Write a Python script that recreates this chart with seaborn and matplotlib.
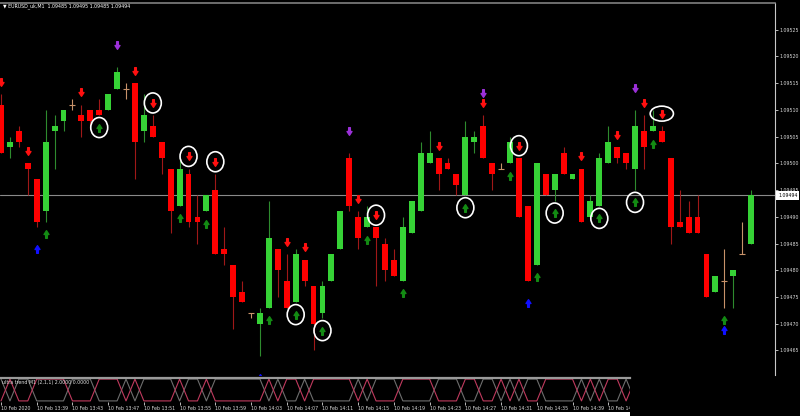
import numpy as np
import pandas as pd
import matplotlib.pyplot as plt
import matplotlib.transforms as mtransforms
import seaborn as sns
from matplotlib.patches import Ellipse, Rectangle
from matplotlib.path import Path

# EURUSD M1 candles, 10 Feb 2020 13:35 .. 14:59
opens = [1.09511, 1.09503, 1.09506, 1.09500, 1.09497, 1.09491, 1.09506, 1.09508, 1.09511, 1.09509,
         1.09510, 1.09510, 1.09510, 1.09514, 1.09514, 1.09515, 1.09506, 1.09507, 1.09504, 1.09499,
         1.09492, 1.09498, 1.09490, 1.09491, 1.09495, 1.09484, 1.09481, 1.09476, 1.09472, 1.09470,
         1.09473, 1.09484, 1.09478, 1.09474, 1.09482, 1.09477, 1.09472, 1.09478, 1.09484, 1.09501,
         1.09490, 1.09488, 1.09488, 1.09485, 1.09482, 1.09478, 1.09487, 1.09491, 1.09500, 1.09501,
         1.09500, 1.09498, 1.09494, 1.09504, 1.09507, 1.09500, 1.09499, 1.09500, 1.09501, 1.09492,
         1.09481, 1.09498, 1.09495, 1.09502, 1.09497, 1.09499, 1.09490, 1.09492, 1.09500, 1.09503,
         1.09502, 1.09499, 1.09506, 1.09506, 1.09506, 1.09501, 1.09489, 1.09490, 1.09490, 1.09483,
         1.09476, 1.09478, 1.09479, 1.09483, 1.09485]
highs = [1.09513, 1.09505, 1.09507, 1.09500, 1.09497, 1.09510, 1.09509, 1.09510, 1.09512, 1.09511,
         1.09510, 1.09512, 1.09513, 1.09518, 1.09515, 1.09515, 1.09513, 1.09509, 1.09504, 1.09499,
         1.09501, 1.09499, 1.09494, 1.09494, 1.09498, 1.09488, 1.09481, 1.09478, 1.09472, 1.09473,
         1.09493, 1.09484, 1.09483, 1.09484, 1.09482, 1.09477, 1.09478, 1.09483, 1.09491, 1.09502,
         1.09491, 1.09492, 1.09488, 1.09486, 1.09484, 1.09490, 1.09493, 1.09504, 1.09506, 1.09501,
         1.09501, 1.09498, 1.09508, 1.09506, 1.09509, 1.09500, 1.09500, 1.09505, 1.09501, 1.09492,
         1.09500, 1.09498, 1.09498, 1.09503, 1.09498, 1.09499, 1.09494, 1.09502, 1.09507, 1.09503,
         1.09502, 1.09510, 1.09509, 1.09510, 1.09507, 1.09501, 1.09495, 1.09493, 1.09494, 1.09483,
         1.09479, 1.09484, 1.09480, 1.09489, 1.09495]
lows = [1.09502, 1.09501, 1.09503, 1.09494, 1.09488, 1.09489, 1.09499, 1.09506, 1.09510, 1.09505,
        1.09507, 1.09509, 1.09510, 1.09514, 1.09512, 1.09497, 1.09504, 1.09505, 1.09498, 1.09487,
        1.09492, 1.09488, 1.09485, 1.09491, 1.09483, 1.09481, 1.09469, 1.09474, 1.09471, 1.09464,
        1.09473, 1.09475, 1.09473, 1.09474, 1.09477, 1.09465, 1.09471, 1.09478, 1.09484, 1.09491,
        1.09484, 1.09488, 1.09477, 1.09478, 1.09479, 1.09478, 1.09487, 1.09491, 1.09500, 1.09495,
        1.09499, 1.09494, 1.09494, 1.09502, 1.09501, 1.09495, 1.09499, 1.09500, 1.09490, 1.09478,
        1.09481, 1.09494, 1.09493, 1.09498, 1.09497, 1.09489, 1.09490, 1.09492, 1.09500, 1.09500,
        1.09499, 1.09495, 1.09499, 1.09506, 1.09504, 1.09485, 1.09488, 1.09487, 1.09487, 1.09475,
        1.09476, 1.09473, 1.09473, 1.09483, 1.09485]
closes = [1.09502, 1.09504, 1.09504, 1.09499, 1.09489, 1.09504, 1.09507, 1.09510, 1.09511, 1.09508,
          1.09508, 1.09509, 1.09513, 1.09517, 1.09514, 1.09504, 1.09509, 1.09505, 1.09501, 1.09491,
          1.09499, 1.09489, 1.09489, 1.09494, 1.09483, 1.09483, 1.09475, 1.09474, 1.09472, 1.09472,
          1.09486, 1.09480, 1.09473, 1.09483, 1.09478, 1.09470, 1.09477, 1.09483, 1.09491, 1.09492,
          1.09486, 1.09490, 1.09486, 1.09480, 1.09479, 1.09488, 1.09493, 1.09502, 1.09502, 1.09498,
          1.09499, 1.09496, 1.09505, 1.09505, 1.09501, 1.09498, 1.09499, 1.09504, 1.09490, 1.09478,
          1.09500, 1.09494, 1.09498, 1.09498, 1.09498, 1.09489, 1.09493, 1.09501, 1.09504, 1.09501,
          1.09500, 1.09507, 1.09503, 1.09507, 1.09504, 1.09488, 1.09488, 1.09487, 1.09487, 1.09475,
          1.09479, 1.09478, 1.09480, 1.09483, 1.09494]

# signal arrows (candle index)
sell_red = [0, 3, 9, 15, 17, 21, 24, 32, 34, 40, 42, 49, 54, 58, 65, 69, 72, 74]
sell_purple = [13, 39, 54, 71]
buy_green = [5, 11, 20, 23, 30, 33, 36, 41, 45, 52, 57, 60, 62, 67, 71, 73, 81]
buy_blue = [4, 29, 59, 81]
circled_sell = [17, 21, 24, 42, 58, 74]
circled_buy = [11, 33, 36, 52, 62, 67, 71]

# ultra trend lines: 1 = upper level
trend_state = [0, 1, 0, 0, 1, 1, 1, 1, 0, 0, 0, 1, 1, 1, 0, 1, 0, 0, 0, 0,
               1, 0, 0, 1, 0, 0, 0, 0, 0, 0, 1, 0, 1, 1, 0, 1, 1, 1, 1, 1,
               0, 1, 0, 0, 0, 1, 1, 1, 1, 0, 0, 0, 1, 1, 0, 0, 1, 0, 1, 0,
               0, 1, 1, 1, 1, 0, 1, 0, 1, 1, 0, 1]

tick_pos = list(range(0, 69, 4))
tick_labels = ['10 Feb 2020', '10 Feb 13:39', '10 Feb 13:43', '10 Feb 13:47', '10 Feb 13:51',
               '10 Feb 13:55', '10 Feb 13:59', '10 Feb 14:03', '10 Feb 14:07', '10 Feb 14:11',
               '10 Feb 14:15', '10 Feb 14:19', '10 Feb 14:23', '10 Feb 14:27', '10 Feb 14:31',
               '10 Feb 14:35', '10 Feb 14:39', '10 Feb 14:43']
price_ticks = [1.09465, 1.09470, 1.09475, 1.09480, 1.09485, 1.09490, 1.09495,
               1.09500, 1.09505, 1.09510, 1.09515, 1.09520, 1.09525]
last_price = 1.09494

sns.set_theme(style='dark', rc={'axes.facecolor': 'black', 'figure.facecolor': 'black'})
plt.rcParams['font.family'] = ['DejaVu Sans']

df = pd.DataFrame({'open': opens, 'high': highs, 'low': lows, 'close': closes})
df['i'] = np.arange(len(df))
pts_o = np.round(df['open'] * 1e5)
pts_c = np.round(df['close'] * 1e5)
up = df[pts_c > pts_o]
dn = df[pts_c < pts_o]
dj = df[pts_c == pts_o]

W, H = 800, 416
fig = plt.figure(figsize=(8, 4.16), dpi=100)
px = 8.93  # pixels per candle
x0 = -1 / px
ax = fig.add_axes([0, 1 - 375 / H, 775 / W, 372 / H])
ax.set_facecolor('black')

bw = 0.66
green, red = '#36d236', '#ff0000'
ax.vlines(up['i'], up['low'], up['high'], color='#2e8b2e', lw=0.8, zorder=2)
ax.bar(up['i'], up['close'] - up['open'], bottom=up['open'], width=bw, color=green, lw=0, zorder=3)
ax.vlines(dn['i'], dn['low'], dn['high'], color='#a01818', lw=0.8, zorder=2)
ax.bar(dn['i'], dn['open'] - dn['close'], bottom=dn['close'], width=bw, color=red, lw=0, zorder=3)
ax.vlines(dj['i'], dj['low'], dj['high'], color='#c8926a', lw=0.8, zorder=2)
ax.hlines(dj['close'], dj['i'] - bw / 2, dj['i'] + bw / 2, color='#c8926a', lw=0.8, zorder=2)

ax.axhline(last_price, color='#8a8a8a', lw=0.8, zorder=1)

# arrow markers
up_arrow = Path([(-0.22, -1), (0.22, -1), (0.22, 0), (0.65, 0), (0, 1), (-0.65, 0), (-0.22, 0), (-0.22, -1)],
                [1, 2, 2, 2, 2, 2, 2, 79])
dn_arrow = Path([(x, -y) for x, y in up_arrow.vertices], up_arrow.codes)
hi = df['high'].values
lo = df['low'].values
near, far = 0.000023, 0.000041
ax.plot(sell_red, hi[sell_red] + near, ls='none', marker=dn_arrow, ms=5.5, color='#ff1010', zorder=4)
ax.plot(sell_purple, hi[sell_purple] + far, ls='none', marker=dn_arrow, ms=5.5, color='#9b30d8', zorder=4)
ax.plot(buy_green, lo[buy_green] - near, ls='none', marker=up_arrow, ms=5.5, color='#138a13', zorder=4)
ax.plot(buy_blue, lo[buy_blue] - far, ls='none', marker=up_arrow, ms=5.5, color='#1010ff', zorder=4)
for i in circled_sell:
    wide = i == circled_sell[-1]
    ax.add_patch(Ellipse((i, hi[i] + near), 2.6 if wide else 1.9, 0.000028 if wide else 0.0000375,
                         fill=False, ec='white', lw=1.2, zorder=5))
for i in circled_buy:
    ax.add_patch(Ellipse((i, lo[i] - near), 1.9, 0.0000375, fill=False, ec='white', lw=1.2, zorder=5))

ax.set_xlim(x0, (775 - 1) / px)
ax.set_ylim(1.094604, 1.095300)
ax.set_xticks([])
ax.yaxis.tick_right()
ax.set_yticks(price_ticks)
ax.set_yticklabels([f'{p:.5f}' for p in price_ticks])
ax.tick_params(axis='y', colors='#d8d8d8', labelsize=3.4, length=2, width=0.6, pad=1.5, right=True)
for s in ['left', 'bottom']:
    ax.spines[s].set_visible(False)
ax.spines['right'].set_color('#c8c8c8')
ax.spines['right'].set_linewidth(0.8)
ax.spines['top'].set_color('#808080')
ax.spines['top'].set_linewidth(1.2)
ax.grid(False)

trans = mtransforms.blended_transform_factory(ax.transAxes, ax.transData)
ax.text(1.004, last_price, f'{last_price:.5f}', transform=trans, fontsize=3.4, color='black',
        va='center', ha='left', clip_on=False,
        bbox=dict(fc='white', ec='none', boxstyle='square,pad=0.35'))

fig.text(0.004, 1 - 6 / H, '\u25bc EURUSD_uk,M1  1.09485 1.09495 1.09485 1.09494',
         fontsize=3.4, color='white', va='center', ha='left')

# indicator panel
ax2 = fig.add_axes([0, 1 - 402 / H, 630 / W, 24 / H])
ax2.set_facecolor('black')
ind = pd.DataFrame({'i': np.arange(len(trend_state)), 'pink': trend_state})
ind['gray'] = 1 - ind['pink']
ind_long = ind.melt(id_vars='i', var_name='line', value_name='level')
sns.lineplot(data=ind_long, x='i', y='level', hue='line', palette={'pink': '#c03a5e', 'gray': '#6e6e6e'},
             hue_order=['gray', 'pink'], lw=0.8, legend=False, ax=ax2)
ax2.set_xlim(x0, (630 - 1) / px)
ax2.set_ylim(-0.05, 1.05)
ax2.set_yticks([])
ax2.set_ylabel('')
ax2.set_xlabel('')
ax2.set_xticks(tick_pos)
ax2.set_xticklabels(tick_labels, ha='left')
ax2.tick_params(axis='x', colors='#d8d8d8', labelsize=3.4, length=2, width=0.6, pad=1, bottom=True)
for s in ['left', 'right', 'bottom']:
    ax2.spines[s].set_visible(False)
ax2.spines['top'].set_color('#9a9a9a')
ax2.spines['top'].set_linewidth(1.6)
ax2.grid(False)
ax2.text(0.003, 0.82, 'ultra trend M1 (2,1,1) 2.0000 0.0000', transform=ax2.transAxes,
         fontsize=3.4, color='#e0e0e0', va='center', ha='left')

fig.add_artist(Rectangle((630 / W, 0), 1 - 630 / W, 14 / H, transform=fig.transFigure,
                         fc='black', ec='none', zorder=10))
fig.add_artist(Rectangle((0, 0), 630 / W, 4 / H, transform=fig.transFigure,
                         fc='white', ec='none', zorder=10))

fig.savefig('out.png', dpi=100, facecolor='black')
